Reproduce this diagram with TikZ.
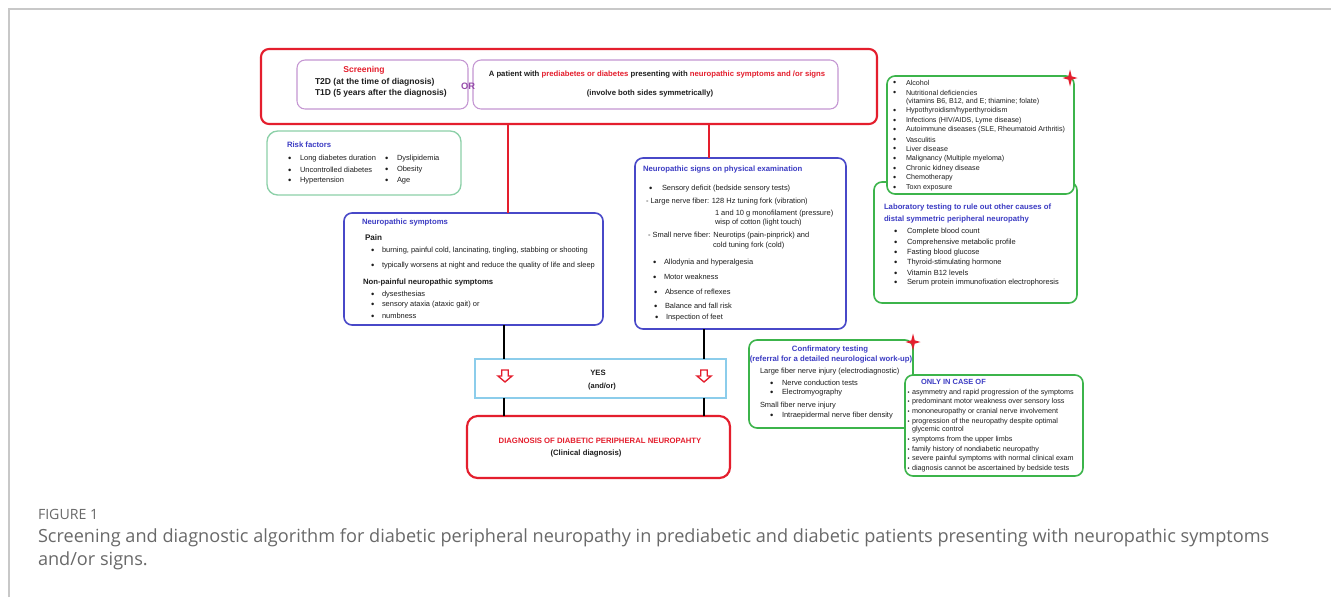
\documentclass[tikz,border=0pt]{standalone}
\usepackage{fontspec}
\setmainfont{Liberation Sans}
\newfontfamily\capfont{Open Sans}
\usetikzlibrary{fit}
\definecolor{myred}{RGB}{228,30,45}
\definecolor{purp}{RGB}{196,150,210}
\definecolor{orc}{RGB}{150,75,170}
\definecolor{lgreen}{RGB}{140,208,168}
\definecolor{bluec}{RGB}{72,72,200}
\definecolor{ttlblue}{RGB}{60,60,195}
\definecolor{lblue}{RGB}{140,205,235}
\definecolor{grn}{RGB}{60,180,75}
\definecolor{ink}{RGB}{30,30,30}
\definecolor{capgray}{RGB}{105,105,105}
\definecolor{framec}{RGB}{200,200,200}
\newcommand\fR{\fontsize{5.6pt}{6.7pt}\selectfont}
\newcommand\fB{\fontsize{5.8pt}{6.9pt}\selectfont\bfseries}
\newcommand\fC{\fontsize{5.35pt}{6.4pt}\selectfont}
\newcommand\fO{\fontsize{5.4pt}{6.5pt}\selectfont}
\newcommand\fL{\fontsize{6.4pt}{7.6pt}\selectfont\bfseries}
\newcommand\bul[1][5.75pt]{\llap{\raisebox{-0.15ex}{\scalebox{1.25}{\textbullet}}\hspace{#1}}}
\newcommand\sbul{\llap{\scalebox{0.8}{\textbullet}\hspace{1.8pt}}}
\tikzset{
  txt/.style={anchor=west, inner sep=0pt, outer sep=0pt, text=ink, font=\fR},
  ttl/.style={txt, text=ttlblue, font=\fB},
  bb/.style={txt, font=\fB},
  ctr/.style={anchor=center},
  box/.style={inner sep=0pt, outer sep=0pt, rounded corners=6pt},
  redbox/.style={box, draw=myred, line width=1.6pt},
  purbox/.style={box, draw=purp, line width=0.8pt},
  riskbox/.style={box, draw=lgreen, line width=1pt, rounded corners=8pt},
  bluebox/.style={box, draw=bluec, line width=1.2pt},
  yesbox/.style={inner sep=0pt, outer sep=0pt, draw=lblue, line width=1pt},
  grbox/.style={box, draw=grn, line width=1.2pt},
  redline/.style={draw=myred, line width=1.3pt},
  blkline/.style={draw=black, line width=1.3pt},
  downarr/.pic={\draw[myred, line width=1pt, fill=white] (-3.2,-6)--(3.2,-6)--(3.2,0)--(7,0)--(0,6)--(-7,0)--(-3.2,0)--cycle;},
  redstar/.pic={\fill[myred] (0,-8.5)--(1.7,-1.7)--(7.5,0)--(1.7,1.7)--(0,8.5)--(-1.7,1.7)--(-7.5,0)--(-1.7,-1.7)--cycle;}
}
\begin{document}
\begin{tikzpicture}[x=0.75pt,y=-0.75pt]
\useasboundingbox (0,0) rectangle (1331,597);
\fill[white] (0,0) rectangle (1331,597);
\draw[framec, line width=1.1pt] (9,597) -- (9,9) -- (1331,9);

% ---- boxes
\node[redbox, fit={(261,49)(877,124)}] (top) {};
\node[purbox, fit={(297,60)(468,109)}] (scr) {};
\node[purbox, fit={(473,60)(838,109)}] (pat) {};
\node[riskbox, fit={(267,131)(461,195)}] (risk) {};
\node[bluebox, fit={(344,213)(603,325)}] (symp) {};
\node[bluebox, fit={(635,158)(846,329)}] (signs) {};
\node[yesbox, fit={(475,359)(726,398)}] (yes) {};
\node[redbox, rounded corners=8pt, fit={(467,416)(730,478)}] (diag) {};
\node[grbox, fit={(874,182)(1077,303)}] (lab) {};
\node[grbox, fill=white, fit={(887,76)(1074,194)}] (causes) {};
\node[grbox, fit={(749,340)(913,428)}] (conf) {};
\node[grbox, fill=white, fit={(905,375)(1083,476)}] (only) {};

% ---- connectors
\coordinate (xa) at (508,0);
\coordinate (xb) at (709,0);
\coordinate (xc) at (504,0);
\coordinate (xd) at (704,0);
\draw[redline] (top.south -| xa) -- (symp.north -| xa);
\draw[redline] (top.south -| xb) -- (signs.north -| xb);
\draw[blkline] (symp.south -| xc) -- (yes.north -| xc);
\draw[blkline] (yes.south -| xc) -- (diag.north -| xc);
\draw[blkline] (signs.south -| xd) -- (yes.north -| xd);
\draw[blkline] (yes.south -| xd) -- (diag.north -| xd);
\pic at (505,376) {downarr};
\pic at (704,376) {downarr};
\pic at (1070,78) {redstar};
\pic at (913,342) {redstar};

% ---- top box texts
\node[txt, ctr, font=\fL, text=myred] (scrT) at (364,70) {Screening};
\node[txt, font=\fL] (t2d) at (315,82) {T2D (at the time of diagnosis)};
\node[txt, font=\fL] (t1d) at (315,93) {T1D (5 years after the diagnosis)};
\node[txt, ctr, font=\fontsize{7pt}{8pt}\selectfont\bfseries, text=orc] (orT) at (468,86) {OR};
\node[bb, ctr] (patT) at (657,75) {A patient with \textcolor{myred}{prediabetes or diabetes} presenting with \textcolor{myred}{neuropathic symptoms and /or signs}};
\node[bb, ctr] (invT) at (650,93) {(involve both sides symmetrically)};

% ---- risk factors
\node[ttl] (riskT) at (287,145) {Risk factors};
\node[txt] (rf1) at (300,159) {\bul[6.5pt]Long diabetes duration};
\node[txt] (rf2) at (300,170) {\bul[6.5pt]Uncontrolled diabetes};
\node[txt] (rf3) at (300,181) {\bul[6.5pt]Hypertension};
\node[txt] (rf4) at (397,159) {\bul[6.5pt]Dyslipidemia};
\node[txt] (rf5) at (397,170) {\bul[6.5pt]Obesity};
\node[txt] (rf6) at (397,181) {\bul[6.5pt]Age};

% ---- neuropathic symptoms
\node[ttl] (sympT) at (362,222) {Neuropathic symptoms};
\node[bb, font=\fontsize{6.1pt}{7pt}\selectfont\bfseries] (pain) at (365,238) {Pain};
\node[txt] (s1) at (382,251) {\bul burning, painful cold, lancinating, tingling, stabbing or shooting};
\node[txt] (s2) at (382,266) {\bul typically worsens at night and reduce the quality of life and sleep};
\node[bb] (nonp) at (363,282) {Non-painful neuropathic symptoms};
\node[txt] (s3) at (382,295) {\bul dysesthesias};
\node[txt] (s4) at (382,305) {\bul sensory ataxia (ataxic gait) or};
\node[txt] (s5) at (382,316) {\bul numbness};

% ---- neuropathic signs
\node[ttl] (signsT) at (643,170) {Neuropathic signs on physical examination};
\node[txt] (g1) at (662,189) {\bul[7.25pt]Sensory deficit (bedside sensory tests)};
\node[txt] (g2) at (646,202) {- Large nerve fiber: 128 Hz tuning fork (vibration)};
\node[txt] (g3) at (715,214) {1 and 10 g monofilament (pressure)};
\node[txt] (g4) at (715,223) {wisp of cotton (light touch)};
\node[txt] (g5) at (648,236) {- Small nerve fiber: Neurotips (pain-pinprick) and};
\node[txt] (g6) at (713,246) {cold tuning fork (cold)};
\node[txt] (g7) at (664,263) {\bul Allodynia and hyperalgesia};
\node[txt] (g8) at (664,277) {\bul Motor weakness};
\node[txt] (g9) at (665,292) {\bul Absence of reflexes};
\node[txt] (g10) at (665,306) {\bul Balance and fall risk};
\node[txt] (g11) at (666,318) {\bul Inspection of feet};

% ---- YES / diagnosis
\node[bb, ctr] (yesT) at (598,373) {YES};
\node[bb, ctr, font=\fontsize{5.6pt}{6.7pt}\selectfont\bfseries] (andor) at (602,387) {(and/or)};
\node[bb, ctr, text=myred] (diagT) at (600,441) {DIAGNOSIS OF DIABETIC PERIPHERAL NEUROPAHTY};
\node[bb, ctr] (clin) at (586,454) {(Clinical diagnosis)};

% ---- other causes
\node[txt, font=\fC] (c1) at (906,83) {\bul[7.25pt]Alcohol};
\node[txt, font=\fC] (c2) at (906,93) {\bul[7.25pt]Nutritional deficiencies};
\node[txt, font=\fC] (c3) at (906,102) {(vitamins B6, B12, and E; thiamine; folate)};
\node[txt, font=\fC] (c4) at (906,111) {\bul[7.25pt]Hypothyroidism/hyperthyroidism};
\node[txt, font=\fC] (c5) at (906,121) {\bul[7.25pt]Infections (HIV/AIDS, Lyme disease)};
\node[txt, font=\fC] (c6) at (906,130) {\bul[7.25pt]Autoimmune diseases (SLE, Rheumatoid Arthritis)};
\node[txt, font=\fC] (c7) at (906,140) {\bul[7.25pt]Vasculitis};
\node[txt, font=\fC] (c8) at (906,149) {\bul[7.25pt]Liver disease};
\node[txt, font=\fC] (c9) at (906,159) {\bul[7.25pt]Malignancy (Multiple myeloma)};
\node[txt, font=\fC] (c10) at (906,169) {\bul[7.25pt]Chronic kidney disease};
\node[txt, font=\fC] (c11) at (906,178) {\bul[7.25pt]Chemotherapy};
\node[txt, font=\fC] (c12) at (906,188) {\bul[7.25pt]Toxn exposure};

% ---- laboratory testing
\node[ttl] (labT1) at (884,208) {Laboratory testing to rule out other causes of};
\node[ttl] (labT2) at (884,219) {distal symmetric peripheral neuropathy};
\node[txt] (l1) at (907,232) {\bul[7.25pt]Complete blood count};
\node[txt] (l2) at (907,243) {\bul[7.25pt]Comprehensive metabolic profile};
\node[txt] (l3) at (907,253) {\bul[7.25pt]Fasting blood glucose};
\node[txt] (l4) at (907,263) {\bul[7.25pt]Thyroid-stimulating hormone};
\node[txt] (l5) at (907,273) {\bul[7.25pt]Vitamin B12 levels};
\node[txt] (l6) at (907,283) {\bul[7.25pt]Serum protein immunofixation electrophoresis};

% ---- confirmatory testing
\node[ttl, ctr] (confT1) at (830,350) {Confirmatory testing};
\node[ttl, ctr] (confT2) at (831,360) {(referral for a detailed neurological work-up)};
\node[txt] (f1) at (760,372) {Large fiber nerve injury (electrodiagnostic)};
\node[txt] (f2) at (782,383) {\bul[6.5pt]Nerve conduction tests};
\node[txt] (f3) at (782,393) {\bul[6.5pt]Electromyography};
\node[txt] (f4) at (760,406) {Small fiber nerve injury};
\node[txt] (f5) at (782,416) {\bul[6.5pt]Intraepidermal nerve fiber density};

% ---- only in case of
\node[ttl, font=\fontsize{5.6pt}{6.7pt}\selectfont\bfseries] (onlyT) at (921,382) {ONLY IN CASE OF};
\node[txt, font=\fO] (o1) at (912,393) {\sbul asymmetry and rapid progression of the symptoms};
\node[txt, font=\fO] (o2) at (912,402) {\sbul predominant motor weakness over sensory loss};
\node[txt, font=\fO] (o3) at (912,412) {\sbul mononeuropathy or cranial nerve involvement};
\node[txt, font=\fO] (o4) at (912,422) {\sbul progression of the neuropathy despite optimal};
\node[txt, font=\fO] (o5) at (912,430) {glycemic control};
\node[txt, font=\fO] (o6) at (912,440) {\sbul symptoms from the upper limbs};
\node[txt, font=\fO] (o7) at (912,450) {\sbul family history of nondiabetic neuropathy};
\node[txt, font=\fO] (o8) at (912,459) {\sbul severe painful symptoms with normal clinical exam};
\node[txt, font=\fO] (o9) at (912,469) {\sbul diagnosis cannot be ascertained by bedside tests};

% ---- caption
\node[txt, text=capgray, font=\capfont\fontsize{10.6pt}{12pt}\selectfont] (figT) at (38,514) {FIGURE 1};
\node[txt, text=capgray, font=\capfont\fontsize{13.6pt}{16pt}\selectfont] (cap1) at (38,538) {Screening and diagnostic algorithm for diabetic peripheral neuropathy in prediabetic and diabetic patients presenting with neuropathic symptoms};
\node[txt, text=capgray, font=\capfont\fontsize{13.6pt}{16pt}\selectfont] (cap2) at (38,561) {and/or signs.};
\end{tikzpicture}
\end{document}
